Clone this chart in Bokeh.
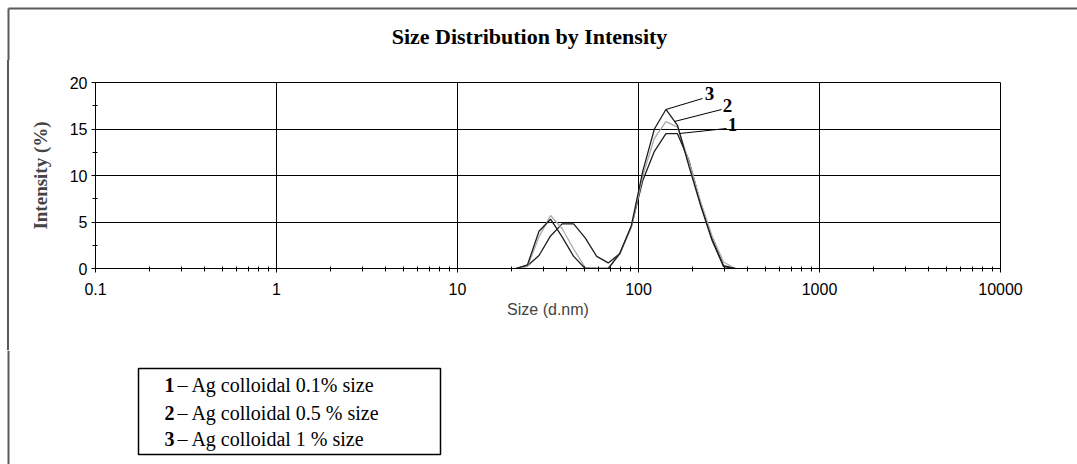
import math
from bokeh.plotting import figure
from bokeh.layouts import column, row
from bokeh.models import Range1d, FixedTicker, CustomJSTickFormatter, Div
from bokeh.core.properties import value
from bokeh.embed import file_html
from bokeh.resources import INLINE

# ---------------- data ----------------
sizes_nm = [21.04, 24.36, 28.21, 32.67, 37.84, 43.82, 50.75, 58.77, 68.06, 78.82,
            91.28, 105.7, 122.4, 141.8, 164.2, 190.1, 220.2, 255.0, 295.3, 342.0]
curve1 = [0, 0.3, 1.4, 3.5, 4.8, 4.8, 3.3, 1.3, 0.6, 1.6,
          4.5, 9.5, 12.6, 14.5, 14.5, 11.6, 7.0, 3.2, 0.3, 0]
curve2 = [0, 0.2, 3.4, 5.7, 4.3, 2.1, 0.1, 0, 0, 1.6,
          4.4, 10.0, 14.0, 15.8, 15.2, 11.5, 7.2, 3.5, 0.7, 0]
curve3 = [0, 0.4, 4.0, 5.3, 3.4, 1.3, 0, 0, 0, 1.6,
          4.6, 10.5, 15.0, 17.1, 15.4, 11.0, 6.8, 3.0, 0.2, 0]
series_names = ["1", "2", "3"]
series_colors = ["#1e1e1e", "#ababab", "#1e1e1e"]
legend_texts = ["\u2013 Ag colloidal 0.1% size",
                "\u2013 Ag colloidal 0.5 % size",
                "\u2013 Ag colloidal 1 % size"]
title_text = "Size Distribution by Intensity"
x_ticks = [0.1, 1, 10, 100, 1000, 10000]
y_ticks = [0, 5, 10, 15, 20]
y_minor = [2.5, 7.5, 12.5, 17.5]

# ---------------- layout (page pixels) ----------------
W, H = 1077, 464
TOP_H, MID_H = 60, 290
BOT_H = H - TOP_H - MID_H
STRIP_W = 20
FL, FR, FT, FB = 95, 1000, 82, 268
X0, X1, Y0, Y1 = 0.1, 10000, 0, 20
SERIF = "Liberation Serif"
SANS = "Liberation Sans"
FRAME_COLOR = "#5a5a5a"


def px2x(px):
    lo, hi = math.log10(X0), math.log10(X1)
    return 10 ** (lo + (px - FL) / (FR - FL) * (hi - lo))


def py2y(py):
    return Y0 + (FB - py) / (FB - FT) * (Y1 - Y0)


def blank(w, h):
    f = figure(width=w, height=h, x_range=Range1d(0, w), y_range=Range1d(h, 0),
               output_backend="svg", toolbar_location=None, title=None,
               x_axis_location=None, y_axis_location=None, min_border=0)
    f.outline_line_color = None
    f.grid.grid_line_color = None
    f.background_fill_color = "white"
    f.border_fill_color = "white"
    return f


# ---------- top strip: outer frame + title ----------
top = blank(W, TOP_H)
top.segment(x0=[8], y0=[8], x1=[W], y1=[8], line_color=FRAME_COLOR, line_width=2)
top.segment(x0=[8], y0=[8], x1=[8], y1=[TOP_H], line_color=FRAME_COLOR, line_width=2)
top.text(x=[529], y=[36], text=[title_text], text_align="center", text_baseline="middle",
         text_font=value(SERIF), text_font_style="bold", text_font_size="22px",
         text_color="black")

# ---------- left strip of the chart row (outer frame line) ----------
strip = Div(text="", width=STRIP_W, height=MID_H, margin=0,
            styles={"background": "linear-gradient(to right, white 7px, %s 7px, %s 9px, white 9px)"
                    % (FRAME_COLOR, FRAME_COLOR)})

# ---------- chart ----------
CW = W - STRIP_W
p = figure(width=CW, height=MID_H, x_axis_type="log",
           x_range=Range1d(X0, X1), y_range=Range1d(Y0, Y1),
           output_backend="svg", toolbar_location=None, title=None,
           min_border_left=FL - STRIP_W, min_border_right=W - FR,
           min_border_top=FT - TOP_H, min_border_bottom=TOP_H + MID_H - FB)
p.background_fill_color = "white"
p.border_fill_color = "white"
p.outline_line_color = "black"
p.outline_line_width = 1

x_minor = [m * 10 ** e for e in range(-1, 4) for m in range(2, 10)]
p.xaxis.ticker = FixedTicker(ticks=x_ticks, minor_ticks=x_minor)
p.yaxis.ticker = FixedTicker(ticks=y_ticks, minor_ticks=y_minor)
p.xaxis.formatter = CustomJSTickFormatter(code="return tick.toString();")

for ax in (p.xaxis[0], p.yaxis[0]):
    ax.axis_line_color = "black"
    ax.major_tick_line_color = "black"
    ax.minor_tick_line_color = "black"
    ax.major_tick_out = 4
    ax.major_tick_in = 0
    ax.minor_tick_out = 3
    ax.minor_tick_in = 2
    ax.major_label_text_font = SANS
    ax.major_label_text_font_size = "16px"
    ax.major_label_text_color = "black"

p.xaxis.major_label_standoff = 10
p.yaxis.major_label_standoff = 4
p.xaxis.axis_label = "Size (d.nm)"
p.xaxis.axis_label_text_font = SANS
p.xaxis.axis_label_text_font_style = "normal"
p.xaxis.axis_label_text_font_size = "16px"
p.xaxis.axis_label_standoff = 3
p.yaxis.axis_label = "Intensity (%)"
p.yaxis.axis_label_text_font = SERIF
p.yaxis.axis_label_text_font_style = "bold"
p.yaxis.axis_label_text_font_size = "19px"
p.yaxis.axis_label_standoff = 16

for g in (p.xgrid[0], p.ygrid[0]):
    g.grid_line_color = "black"
    g.grid_line_alpha = 1
    g.grid_line_width = 1

for ys, c in zip([curve1, curve2, curve3], series_colors):
    p.line(sizes_nm, ys, line_color=c, line_width=1.3)

# curve labels with leader lines
label_pos = [(px2x(732), py2y(124)), (px2x(727), py2y(105)), (px2x(709), py2y(93))]
leader_start = [(px2x(726), py2y(128)), (px2x(721), py2y(109)), (px2x(702), py2y(98))]
leader_end = [(px2x(679), py2y(133)), (px2x(674), py2y(121)), (sizes_nm[13], curve3[13])]
for name, lp, ls, le in zip(series_names, label_pos, leader_start, leader_end):
    p.segment(x0=[ls[0]], y0=[ls[1]], x1=[le[0]], y1=[le[1]], line_color="black", line_width=1)
    p.text(x=[lp[0]], y=[lp[1]], text=[name], text_align="center", text_baseline="middle",
           text_font=value(SERIF), text_font_style="bold",
           text_font_size="19px", text_color="black")

# ---------- bottom strip: outer frame + legend ----------
bot = blank(W, BOT_H)
OFF = TOP_H + MID_H
bot.segment(x0=[8], y0=[0], x1=[8], y1=[BOT_H], line_color=FRAME_COLOR, line_width=2)
box_l, box_r, box_t, box_b = 138, 440, 368, 454
bot.quad(left=[box_l], right=[box_r], top=[box_t - OFF], bottom=[box_b - OFF],
         fill_color=None, line_color="black", line_width=1.5)
row_y = [384, 412, 438]
for name, txt, ry in zip(series_names, legend_texts, row_y):
    bot.text(x=[164], y=[ry - OFF], text=[name], text_align="left", text_baseline="middle",
             text_font=value(SERIF), text_font_style="bold", text_font_size="20px",
             text_color="black")
    bot.text(x=[177], y=[ry - OFF], text=[txt], text_align="left", text_baseline="middle",
             text_font=value(SERIF), text_font_size="20px", text_color="black")

layout = column(top, row(strip, p), bot)
open("out.html", "w").write(file_html(layout, INLINE))
